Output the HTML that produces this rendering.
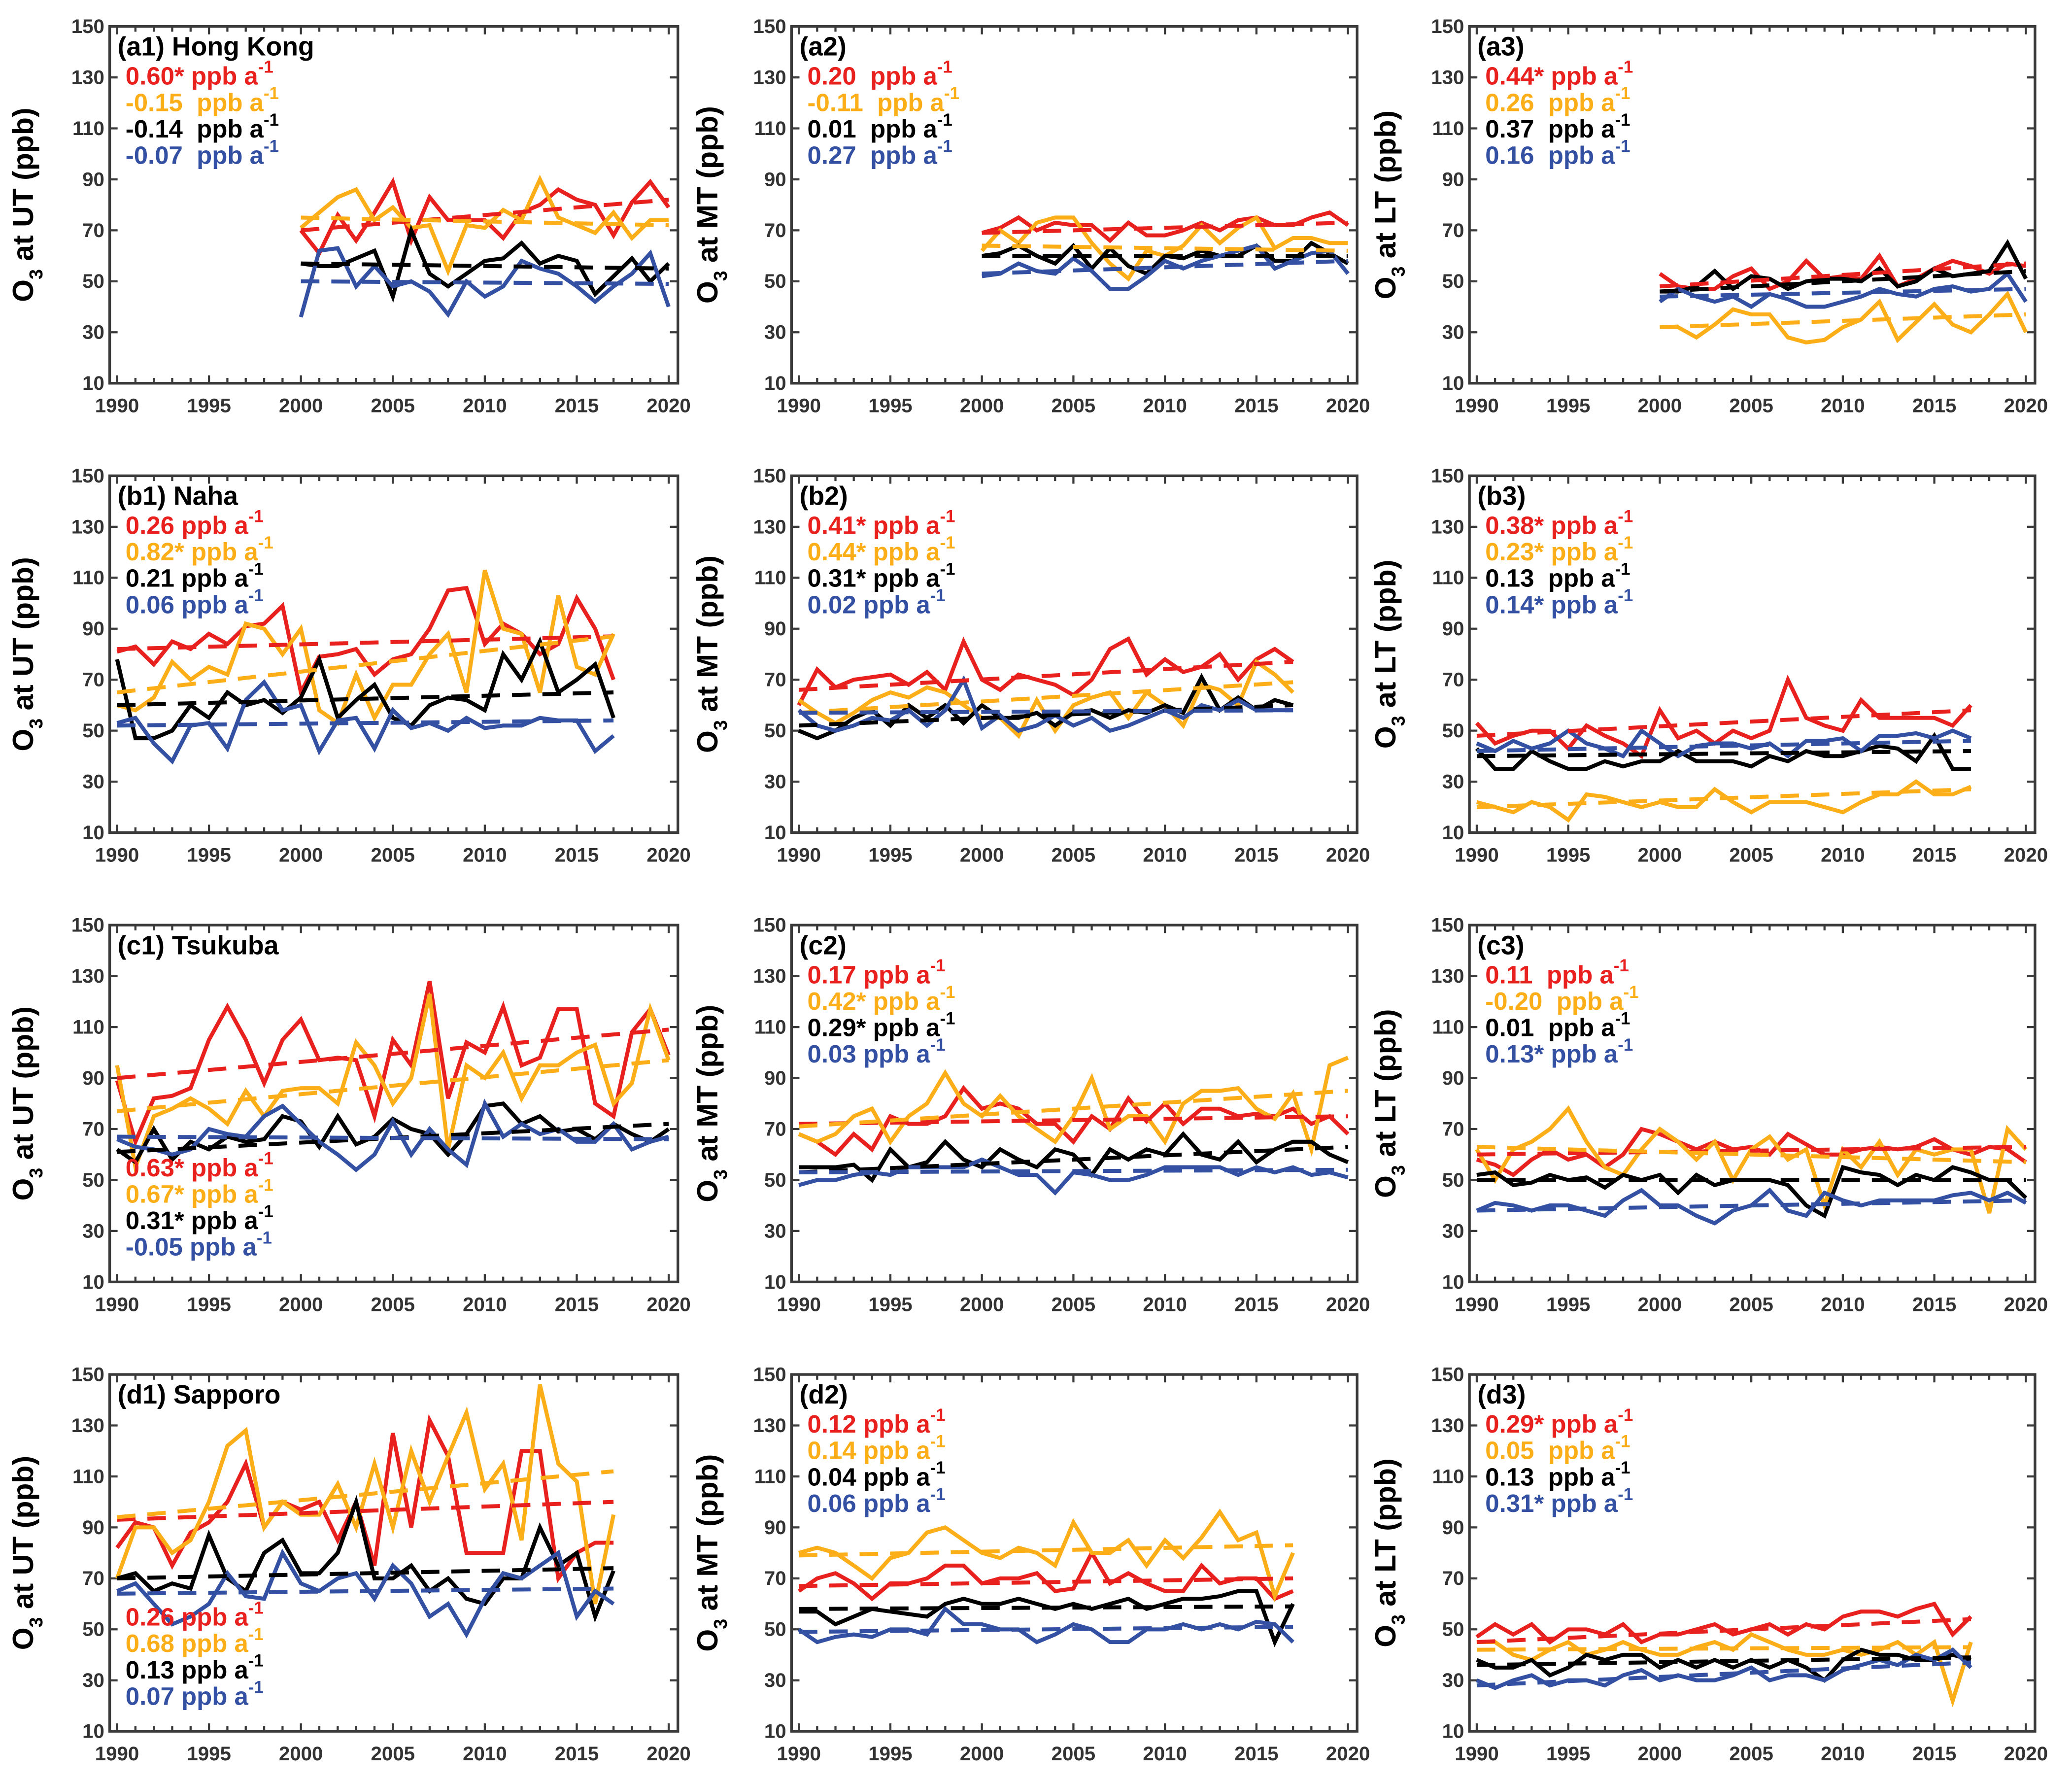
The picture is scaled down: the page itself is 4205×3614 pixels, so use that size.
<!DOCTYPE html>
<html><head><meta charset="utf-8"><style>
html,body{margin:0;padding:0;background:#fff;}
svg{display:block;}
text{font-family:"Liberation Sans",sans-serif;}
</style></head><body>
<svg id="fig" width="4205" height="3614" viewBox="0 0 1568 1347.6" preserveAspectRatio="none" xmlns="http://www.w3.org/2000/svg"></svg>
<script>
const years20 = [2000,2001,2002,2003,2004,2005,2006,2007,2008,2009,2010,2011,2012,2013,2014,2015,2016,2017,2018,2019,2020];
const seriesNames = ["red","orange","black","blue"];
// a1
const a1Red=[70,61,76,66,77,89,66,83,74,74,74,67,77,80,86,82,80,68,81,89,79];
const a1Orange=[71,77,83,86,74,79,71,72,54,72,71,78,74,90,75,72,69,77,67,74,74];
const a1Black=[57,56,56,59,62,44,70,53,48,53,58,59,65,57,60,58,45,52,59,50,57];
const a1Blue=[36,62,63,48,56,48,50,46,37,50,44,48,58,55,53,48,42,48,53,61,40];
const a1Trend=[[70,82],[75,72],[57,55],[50,49]];
// a2
const a2Red=[69,71,75,70,73,72,72,66,73,68,68,70,73,70,74,75,72,72,75,77,72];
const a2Orange=[62,70,65,73,75,75,65,57,51,62,60,64,72,65,71,75,63,67,67,65,65];
const a2Black=[60,61,64,60,57,64,55,63,56,53,60,59,62,60,60,64,58,58,65,61,57];
const a2Blue=[52,53,57,54,53,59,54,47,47,52,58,55,58,60,62,64,55,58,61,62,53];
const a2Trend=[[69,73],[64,62],[60,60],[53,58]];
// a3
const a3Red=[53,48,47,47,52,55,47,50,58,51,52,51,60,48,51,55,58,56,53,57,56];
const a3Orange=[32,32,28,33,39,37,37,28,26,27,32,35,42,27,34,41,33,30,37,45,30];
const a3Black=[46,46,48,54,47,52,51,47,50,51,51,50,55,48,50,55,52,53,54,65,51];
const a3Blue=[42,47,44,42,44,40,45,43,40,40,42,44,47,45,44,47,48,46,47,53,42];
const a3Trend=[[48,57],[32,37],[46,54],[44,47]];
const years28=[1990,1991,1992,1993,1994,1995,1996,1997,1998,1999,2000,2001,2002,2003,2004,2005,2006,2007,2008,2009,2010,2011,2012,2013,2014,2015,2016,2017];
// b1
const b1Red=[81,83,76,85,82,88,84,91,92,99,65,79,80,82,72,78,80,90,105,106,84,92,88,80,84,102,90,70];
const b1Orange=[60,58,63,77,70,75,72,92,90,80,90,58,53,72,55,68,68,80,88,65,113,90,88,65,103,75,72,88];
const b1Black=[78,47,47,50,60,55,65,60,62,57,63,78,55,62,68,55,52,60,63,62,58,80,70,85,65,70,76,55];
const b1Blue=[53,55,45,38,52,53,43,62,69,58,60,42,54,55,43,58,51,53,50,55,51,52,52,55,54,54,42,48];
const b1Trend=[[82,87],[65,87],[60,65],[52,54]];
// b2
const b2Red=[60,74,67,70,71,72,68,73,66,85,70,66,72,70,68,64,70,82,86,72,78,73,75,80,70,78,82,77];
const b2Orange=[62,57,53,57,62,65,63,67,65,60,55,55,48,62,50,60,63,65,55,65,60,52,68,66,60,77,72,65];
const b2Black=[50,47,50,55,58,52,60,55,60,53,60,55,55,57,52,57,58,55,58,57,60,57,71,58,63,58,62,60];
const b2Blue=[58,52,50,52,55,54,58,52,58,70,51,56,50,52,56,52,55,50,52,55,58,55,60,58,62,58,58,58];
const b2Trend=[[66,77],[57,69],[52,60],[57,58]];
// b3
const b3Red=[53,45,48,50,50,43,52,48,45,40,58,47,50,45,50,47,50,70,55,52,50,62,55,55,55,55,52,60];
const b3Orange=[22,20,18,22,20,15,25,24,22,20,22,20,20,27,22,18,22,22,22,20,18,22,25,25,30,25,25,28];
const b3Black=[43,35,35,42,38,35,35,38,36,38,38,42,38,38,38,36,40,38,42,40,40,42,44,43,38,48,35,35];
const b3Blue=[45,42,46,43,45,50,45,43,40,50,45,40,44,45,45,43,45,40,46,46,47,42,48,48,49,47,50,47];
const b3Trend=[[48,58],[20,27],[40,42],[42,46]];
const years31=[1990,1991,1992,1993,1994,1995,1996,1997,1998,1999,2000,2001,2002,2003,2004,2005,2006,2007,2008,2009,2010,2011,2012,2013,2014,2015,2016,2017,2018,2019,2020];
// c1
const c1Red=[89,65,82,83,86,105,118,105,88,105,113,97,98,97,75,105,95,128,82,104,100,118,95,98,117,117,80,75,108,117,99];
const c1Orange=[95,55,75,78,82,78,72,85,75,85,86,86,80,104,95,80,90,123,62,95,90,100,82,95,95,100,103,80,88,117,97];
const c1Black=[62,57,70,58,65,62,67,65,66,75,73,63,75,64,67,74,70,68,60,68,79,80,72,75,69,70,66,72,68,65,70];
const c1Blue=[66,63,62,60,62,70,68,67,75,79,72,65,60,54,60,73,60,70,62,56,80,67,72,68,70,65,65,72,62,65,67];
const c1Trend=[[90,109],[77,97],[61,72],[67,66]];
// c2
const c2Red=[68,65,60,68,62,75,72,72,75,86,78,80,78,72,72,65,75,70,82,73,80,72,78,78,75,76,75,78,72,75,68];
const c2Orange=[68,65,68,75,78,65,75,80,92,80,75,83,75,70,65,75,90,70,75,75,65,80,85,85,86,78,74,84,62,95,98];
const c2Black=[55,55,55,56,50,62,55,57,65,58,55,62,58,55,62,60,52,62,58,62,60,68,60,58,65,57,62,65,65,60,57];
const c2Blue=[48,50,50,52,53,52,55,55,55,55,58,55,52,52,45,53,52,50,50,52,55,55,55,55,52,55,53,55,52,53,51];
const c2Trend=[[72,75],[71,85],[53,63],[53,54]];
// c3
const c3Red=[58,56,52,58,62,58,60,55,60,70,68,65,62,65,62,63,60,68,64,60,60,62,63,62,63,66,62,60,63,62,57];
const c3Orange=[62,50,62,65,70,78,65,55,52,62,70,65,58,65,50,62,67,58,62,40,62,55,65,52,62,60,62,62,37,70,62];
const c3Black=[52,53,48,49,52,50,51,47,52,50,52,45,52,48,50,50,50,48,40,36,55,53,52,48,52,50,55,53,50,50,43];
const c3Blue=[38,41,40,38,40,40,38,36,42,46,40,40,36,33,38,40,46,38,36,45,42,40,42,42,42,42,44,45,42,45,41];
const c3Trend=[[60,63],[63,57],[50,50],[38,42]];
// d1
const d1Red=[82,92,90,75,88,92,100,115,90,100,97,100,85,100,75,127,90,132,118,80,80,80,120,120,70,80,84,84];
const d1Orange=[70,90,90,80,85,100,122,128,90,100,95,95,107,90,115,90,120,100,118,135,105,115,85,146,115,108,60,95];
const d1Black=[70,72,65,68,66,87,70,65,80,85,72,72,80,100,70,70,75,65,70,62,60,70,70,90,75,80,55,73];
const d1Blue=[65,68,60,52,55,60,72,63,62,80,68,65,70,72,62,75,68,55,60,48,62,72,70,75,80,55,65,60];
const d1Trend=[[93,100],[94,112],[70,74],[64,66]];
// d2
const d2Red=[65,70,72,68,62,68,68,70,75,75,68,70,70,72,65,66,80,68,72,68,65,65,75,68,70,70,62,65];
const d2Orange=[80,82,80,75,70,78,80,88,90,85,80,78,82,80,75,92,80,80,85,75,85,78,86,96,85,88,63,80];
const d2Black=[57,57,52,55,58,57,56,55,60,62,60,60,62,60,58,60,58,60,62,58,60,62,62,63,65,65,45,60];
const d2Blue=[50,45,47,48,47,50,50,48,58,52,52,50,50,45,48,52,50,45,45,50,50,52,50,52,50,53,52,45];
const d2Trend=[[67,70],[79,83],[58,59],[49,51]];
// d3
const d3Red=[47,52,48,52,45,50,50,48,52,45,48,48,50,52,48,50,52,48,52,50,55,57,57,55,58,60,48,55];
const d3Orange=[45,45,40,38,42,45,40,42,45,42,40,40,43,45,42,48,45,42,40,40,42,40,42,45,40,45,22,45];
const d3Black=[38,35,35,38,32,35,40,38,40,40,35,38,35,38,35,38,35,38,35,30,38,42,40,40,38,38,40,38];
const d3Blue=[30,27,30,32,28,30,30,28,32,34,30,32,30,30,32,35,30,32,32,30,34,36,38,36,40,38,42,35];
const d3Trend=[[28,37],[42,43],[36,39],[28,37]].map((t,i)=>i===0?[45,54]:t);
const xTicks=[1990,1995,2000,2005,2010,2015,2020];
const yTicks=[10,30,50,70,90,110,130,150];
const trendLabels={
a1:["0.60* ppb a","-0.15  ppb a","-0.14  ppb a","-0.07  ppb a"],
a2:["0.20  ppb a","-0.11  ppb a","0.01  ppb a","0.27  ppb a"],
a3:["0.44* ppb a","0.26  ppb a","0.37  ppb a","0.16  ppb a"],
b1:["0.26 ppb a","0.82* ppb a","0.21 ppb a","0.06 ppb a"],
b2:["0.41* ppb a","0.44* ppb a","0.31* ppb a","0.02 ppb a"],
b3:["0.38* ppb a","0.23* ppb a","0.13  ppb a","0.14* ppb a"],
c1:["0.63* ppb a","0.67* ppb a","0.31* ppb a","-0.05 ppb a"],
c2:["0.17 ppb a","0.42* ppb a","0.29* ppb a","0.03 ppb a"],
c3:["0.11  ppb a","-0.20  ppb a","0.01  ppb a","0.13* ppb a"],
d1:["0.26 ppb a","0.68 ppb a","0.13 ppb a","0.07 ppb a"],
d2:["0.12 ppb a","0.14 ppb a","0.04 ppb a","0.06 ppb a"],
d3:["0.29* ppb a","0.05  ppb a","0.13  ppb a","0.31* ppb a"]};

const colors=["#e8201e","#fbae17","#000000","#3350a3"];
const NS="http://www.w3.org/2000/svg";
const svg=document.getElementById('fig');
function mk(tag,attrs,parent){const e=document.createElementNS(NS,tag);for(const k in attrs)e.setAttribute(k,attrs[k]);(parent||svg).appendChild(e);return e;}
const cols=[[83,513],[599,1027],[1112,1540]];
const rows=[[20,290],[360,630],[700,970],[1040,1310]];
const layers=["UT","MT","LT"];
const rowIds=["a","b","c","d"];
const titles={a1:"(a1) Hong Kong",b1:"(b1) Naha",c1:"(c1) Tsukuba",d1:"(d1) Sapporo"};
const panelData={
a1:[years20,[a1Red,a1Orange,a1Black,a1Blue],a1Trend],a2:[years20,[a2Red,a2Orange,a2Black,a2Blue],a2Trend],a3:[years20,[a3Red,a3Orange,a3Black,a3Blue],a3Trend],
b1:[years28,[b1Red,b1Orange,b1Black,b1Blue],b1Trend],b2:[years28,[b2Red,b2Orange,b2Black,b2Blue],b2Trend],b3:[years28,[b3Red,b3Orange,b3Black,b3Blue],b3Trend],
c1:[years31,[c1Red,c1Orange,c1Black,c1Blue],c1Trend],c2:[years31,[c2Red,c2Orange,c2Black,c2Blue],c2Trend],c3:[years31,[c3Red,c3Orange,c3Black,c3Blue],c3Trend],
d1:[years28,[d1Red,d1Orange,d1Black,d1Blue],d1Trend],d2:[years28,[d2Red,d2Orange,d2Black,d2Blue],d2Trend],d3:[years28,[d3Red,d3Orange,d3Black,d3Blue],d3Trend]};

for(let r=0;r<4;r++)for(let c=0;c<3;c++){
 const id=rowIds[r]+(c+1);
 const [x0,x1]=cols[c],[y0,y1]=rows[r];
 const X=v=>x0+(v-1989.6)/(2020.5-1989.6)*(x1-x0);
 const Y=v=>y1-(v-10)/140*(y1-y0);
 const g=mk('g',{});
 
 
 for(let yr=1990;yr<=2020;yr++){const big=yr%5===0;const L=big?6:4;
  mk('line',{x1:X(yr),x2:X(yr),y1:y1,y2:y1-L,stroke:'#3a3a3a','stroke-width':1.6},g);
  mk('line',{x1:X(yr),x2:X(yr),y1:y0,y2:y0+L,stroke:'#3a3a3a','stroke-width':1.6},g);}
 xTicks.forEach(t=>{const tl=mk('text',{x:X(t),y:y1+22,'text-anchor':'middle','font-size':15,'font-weight':'bold',fill:'#333'},g);tl.textContent=t;
  
  });
 yTicks.forEach(t=>{
  mk('line',{x1:x0,x2:x0+6,y1:Y(t),y2:Y(t),stroke:'#3a3a3a','stroke-width':1.6},g);
  mk('line',{x1:x1,x2:x1-6,y1:Y(t),y2:Y(t),stroke:'#3a3a3a','stroke-width':1.6},g);
  const tl=mk('text',{x:x0-4,y:Y(t)+5,'text-anchor':'end','font-size':15,'font-weight':'bold',fill:'#333'},g);tl.textContent=t;
  
  });
 const box=mk('rect',{x:x0,y:y0,width:x1-x0,height:y1-y0,fill:'none',stroke:'#3a3a3a','stroke-width':2},g);
 
 
 const cx=x0-58+(c===0?0:2),cy=(y0+y1)/2;
 const yl=mk('text',{x:cx,y:cy,transform:`rotate(-90 ${cx} ${cy})`,'text-anchor':'middle','font-size':22,'font-weight':'bold'},g);
 yl.innerHTML='O<tspan font-size="14" dy="7">3</tspan><tspan dy="-7"> at '+layers[c]+' (ppb)</tspan>';
 
 
 const [yrs,ser,tr]=panelData[id];
 ser.forEach((s,i)=>{
  const pts=s.map((v,k)=>X(yrs[k]).toFixed(1)+','+Y(v).toFixed(1)).join(' ');
  const pl=mk('polyline',{points:pts,fill:'none',stroke:colors[i],'stroke-width':3,'stroke-linejoin':'miter'},g);
  
  
 });
 tr.forEach((t,i)=>{
  const ln=mk('line',{x1:X(yrs[0]),y1:Y(t[0]),x2:X(yrs[yrs.length-1]),y2:Y(t[1]),stroke:colors[i],'stroke-width':3,'stroke-dasharray':'14 9'},g);
  
  
 });
 const tt=mk('text',{x:x0+6,y:y0+22,'font-size':20,'font-weight':'bold'},g);
 tt.textContent=titles[id]||'('+id+')';
 
 
 const bottom=(id==='c1'||id==='d1');
 trendLabels[id].forEach((lab,i)=>{
  const ty=bottom? y1-80+i*20 : y0+44+i*20;
  const te=mk('text',{x:x0+12,y:ty,'font-size':19,'font-weight':'bold',fill:colors[i]},g);
  te.innerHTML=lab.replace(/ /g,'&#160;')+'<tspan dy="-9" font-size="13">-1</tspan>';
  
  
 });
}
</script>
</body></html>
